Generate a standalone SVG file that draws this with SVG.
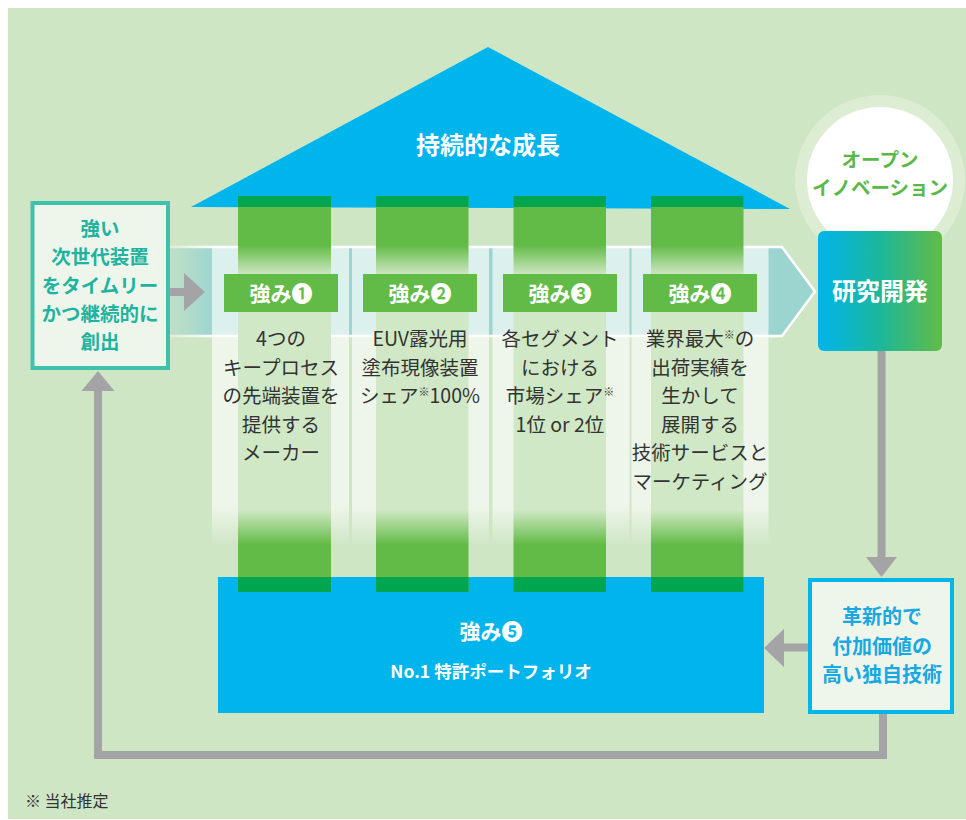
<svg xmlns="http://www.w3.org/2000/svg" width="966" height="820" viewBox="0 0 966 820">
<style>
text{font-family:"Noto Sans CJK JP","Noto Sans",sans-serif;text-anchor:middle}
.w{fill:#fff;font-weight:700}
.col{fill:#333;font-size:19.5px;font-weight:400}
.lbl{fill:#62bb46}
.dk{fill:#00a54f}
.con{fill:none;stroke:#a4a4a7;stroke-width:8}
.hd{fill:#a4a4a7}
.sup{font-size:11px}
</style>
<defs>
<linearGradient id="colg" gradientUnits="userSpaceOnUse" x1="0" y1="196" x2="0" y2="592">
<stop offset="0" stop-color="#62bb46"/>
<stop offset="0.124" stop-color="#62bb46"/>
<stop offset="0.2" stop-color="#d0e8c5"/>
<stop offset="0.793" stop-color="#d0e8c5"/>
<stop offset="0.881" stop-color="#62bb46"/>
<stop offset="1" stop-color="#62bb46"/>
</linearGradient>
<linearGradient id="pang" gradientUnits="userSpaceOnUse" x1="0" y1="247" x2="0" y2="545">
<stop offset="0" stop-color="#fff" stop-opacity="0.65"/>
<stop offset="0.866" stop-color="#fff" stop-opacity="0.65"/>
<stop offset="1" stop-color="#fff" stop-opacity="0"/>
</linearGradient>
<linearGradient id="fadeg" gradientUnits="userSpaceOnUse" x1="150" y1="0" x2="215" y2="0">
<stop offset="0" stop-color="#fff" stop-opacity="0"/>
<stop offset="1" stop-color="#fff" stop-opacity="1"/>
</linearGradient>
<mask id="bandmask" maskUnits="userSpaceOnUse" x="0" y="0" width="966" height="820">
<rect x="0" y="0" width="966" height="820" fill="url(#fadeg)"/>
</mask>
<linearGradient id="rdg" x1="0" y1="0" x2="1" y2="0">
<stop offset="0" stop-color="#00b5ec"/>
<stop offset="0.5" stop-color="#1cb79b"/>
<stop offset="1" stop-color="#62bb46"/>
</linearGradient>
</defs>

<rect x="8" y="8" width="958" height="811" fill="#cfe6c5"/>

<g id="roof">
<polygon points="488,47 191,207 790,209" fill="#00b5ec"/>
<text class="w" x="488" y="154" font-size="24">持続的な成長</text>
</g>

<g id="band" mask="url(#bandmask)">
<path d="M150,247 L782,247 L815,291.5 L782,336 L150,336 Z" fill="#9cd4cf" stroke="#fff" stroke-width="2.5"/>
</g>

<g id="panels">
<rect x="212" y="247" width="137" height="298" fill="url(#pang)"/>
<rect x="352" y="247" width="137" height="298" fill="url(#pang)"/>
<rect x="492.5" y="247" width="137" height="298" fill="url(#pang)"/>
<rect x="631.5" y="247" width="137" height="298" fill="url(#pang)"/>
</g>

<g id="base">
<rect x="218" y="577" width="546" height="136" fill="#00b5ec"/>
</g>

<g id="pillars">
<rect x="238" y="196" width="93" height="396" fill="url(#colg)"/>
<rect x="376" y="196" width="92.5" height="396" fill="url(#colg)"/>
<rect x="513.5" y="196" width="92.5" height="396" fill="url(#colg)"/>
<rect x="651" y="196" width="92.5" height="396" fill="url(#colg)"/>
<rect class="dk" x="238" y="196" width="93" height="11"/>
<rect class="dk" x="376" y="196" width="92.5" height="11"/>
<rect class="dk" x="513.5" y="196" width="92.5" height="11"/>
<rect class="dk" x="651" y="196" width="92.5" height="11"/>
<rect class="dk" x="238" y="577" width="93" height="15"/>
<rect class="dk" x="376" y="577" width="92.5" height="15"/>
<rect class="dk" x="513.5" y="577" width="92.5" height="15"/>
<rect class="dk" x="651" y="577" width="92.5" height="15"/>
</g>

<g id="strength1">
<rect class="lbl" x="224" y="274" width="114" height="38"/>
<text class="w" x="281" y="300.5" font-size="21">強み❶</text>
<text class="col" x="281" y="346">4つの</text>
<text class="col" x="281" y="374.5">キープロセス</text>
<text class="col" x="281" y="403">の先端装置を</text>
<text class="col" x="281" y="431.5">提供する</text>
<text class="col" x="281" y="460">メーカー</text>
</g>

<g id="strength2">
<rect class="lbl" x="363" y="274" width="114" height="38"/>
<text class="w" x="420" y="300.5" font-size="21">強み❷</text>
<text class="col" x="420" y="346">EUV露光用</text>
<text class="col" x="420" y="374.5">塗布現像装置</text>
<text class="col" x="420" y="403">シェア<tspan class="sup" dy="-7">※</tspan><tspan dy="7">100%</tspan></text>
</g>

<g id="strength3">
<rect class="lbl" x="503" y="274" width="114" height="38"/>
<text class="w" x="560" y="300.5" font-size="21">強み❸</text>
<text class="col" x="560" y="346">各セグメント</text>
<text class="col" x="560" y="374.5">における</text>
<text class="col" x="560" y="403">市場シェア<tspan class="sup" dy="-7">※</tspan></text>
<text class="col" x="560" y="431.5">1位 or 2位</text>
</g>

<g id="strength4">
<rect class="lbl" x="643" y="274" width="114" height="38"/>
<text class="w" x="700" y="300.5" font-size="21">強み❹</text>
<text class="col" x="700" y="346">業界最大<tspan class="sup" dy="-7">※</tspan><tspan dy="7">の</tspan></text>
<text class="col" x="700" y="374.5">出荷実績を</text>
<text class="col" x="700" y="403">生かして</text>
<text class="col" x="700" y="431.5">展開する</text>
<text class="col" x="700" y="460">技術サービスと</text>
<text class="col" x="700" y="488.5">マーケティング</text>
</g>

<g id="strength5">
<text class="w" x="491" y="639" font-size="21">強み❺</text>
<text class="w" x="491" y="678" font-size="17.5">No.1 特許ポートフォリオ</text>
</g>

<g id="open-innovation">
<circle cx="880" cy="180" r="85" fill="#dcedd3"/>
<circle cx="880" cy="180" r="73" fill="#fff"/>
<text x="880" y="167" font-size="19.5" font-weight="700" fill="#5ab848">オープン</text>
<text x="880" y="195" font-size="19.5" font-weight="700" fill="#5ab848">イノベーション</text>
</g>

<g id="rnd">
<rect x="818" y="231" width="124" height="120" rx="6" fill="url(#rdg)"/>
<text class="w" x="880" y="300" font-size="24">研究開発</text>
</g>

<g id="connectors">
<path class="con" d="M883,714 L883,755 L98,755 L98,390"/>
<polygon class="hd" points="81.5,391 114.5,391 98,371"/>
<path class="con" d="M170,292 L186,292"/>
<polygon class="hd" points="184,273 184,311 205,292"/>
<path class="con" d="M881.5,351 L881.5,558"/>
<polygon class="hd" points="866,557 897,557 881.5,577"/>
<path class="con" d="M808,647.5 L782,647.5"/>
<polygon class="hd" points="784,629 784,667 764,648"/>
</g>

<g id="left-box">
<rect x="32.5" y="203" width="135.5" height="165" fill="#eef6ec" stroke="#3fc1ab" stroke-width="4"/>
<g font-size="19.5" font-weight="700" fill="#1fb3a0">
<text x="100" y="236">強い</text>
<text x="100" y="264">次世代装置</text>
<text x="100" y="292.5">をタイムリー</text>
<text x="100" y="321">かつ継続的に</text>
<text x="100" y="349">創出</text>
</g>
</g>

<g id="right-box">
<rect x="810" y="580" width="142" height="132" fill="#eef6ec" stroke="#00b5ec" stroke-width="4"/>
<g font-size="20" font-weight="700" fill="#19a8e0">
<text x="882" y="624">革新的で</text>
<text x="882" y="654">付加価値の</text>
<text x="882" y="682">高い独自技術</text>
</g>
</g>

<text x="25" y="807" font-size="16" fill="#333" style="text-anchor:start">※ 当社推定</text>
</svg>
